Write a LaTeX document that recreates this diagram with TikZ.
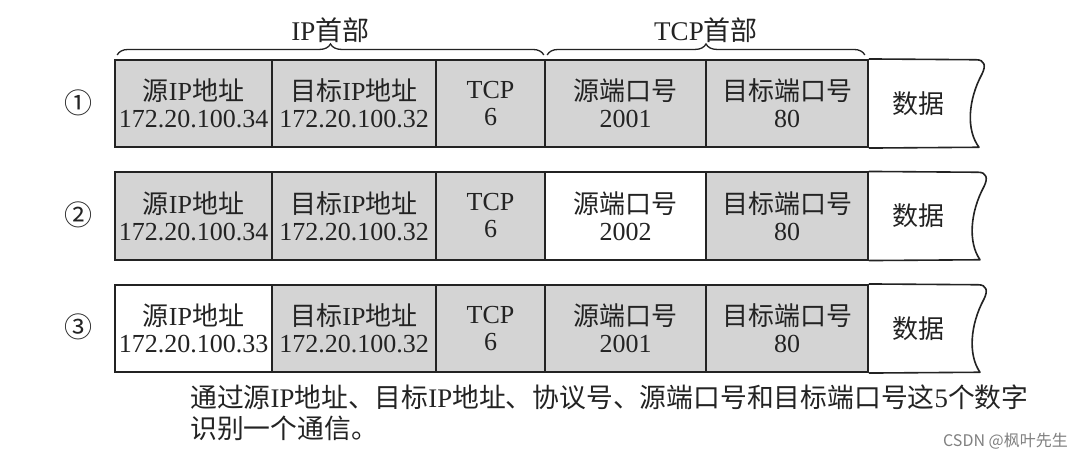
\documentclass[tikz,border=0pt]{standalone}
\usepackage{fontspec}
\setmainfont{Liberation Serif}
\newfontfamily\cjk{Noto Sans CJK SC}
\newcommand{\zh}[1]{{\cjk #1}}
\usetikzlibrary{decorations.pathreplacing}
\definecolor{cellgray}{RGB}{212,212,212}
\definecolor{inkgray}{RGB}{35,35,35}

\begin{document}
\begin{tikzpicture}[x=1pt,y=-1pt]

\tikzset{cell/.style = {draw=inkgray, line width=1.6pt, minimum height=87.5pt, inner sep=0pt, align=center, text=inkgray, font=\fontsize{26}{27}\selectfont}}
\tikzset{hdr/.style = {cell, fill=cellgray}}
\tikzset{rownum/.style = {text=inkgray, font=\cjk\fontsize{28}{28}\selectfont}}
\tikzset{brace/.style = {decorate, decoration={brace, amplitude=11pt}, draw=inkgray, line width=1.3pt}}
\tikzset{datawave/.style = {draw=inkgray, line width=1.6pt, line join=round}}

\fill[white] (0,0) rectangle (1074,458);
\useasboundingbox (0,0) rectangle (1074,458);

%row 1
\node[rownum] (n1) at (78,103) {①};
\node[hdr, minimum width=157pt] (s1) at (193.5,103.5) {\zh{源}IP\zh{地址}\\172.20.100.34};
\node[hdr, minimum width=164pt] (d1) at (354,103.5) {\zh{目标}IP\zh{地址}\\172.20.100.32};
\node[hdr, minimum width=109pt] (p1) at (490.5,103.5) {TCP\\6};
\node[hdr, minimum width=161pt] (sp1) at (625.5,103.5) {\zh{源端口号}\\2001};
\node[hdr, minimum width=162pt] (dp1) at (787,103.5) {\zh{目标端口号}\\80};
\draw[datawave] (dp1.north east) -- (976,59.75) .. controls (985,59.75) and (986,66) .. (982,74)
  .. controls (968,100) and (966,130) .. (979,147.25) -- (dp1.south east);
\node[cell, draw=none] (data1) at (918,103.5) {\zh{数据}};

%row 2
\node[rownum] (n2) at (78,215) {②};
\node[hdr, minimum width=157pt] (s2) at (193.5,216) {\zh{源}IP\zh{地址}\\172.20.100.34};
\node[hdr, minimum width=164pt] (d2) at (354,216) {\zh{目标}IP\zh{地址}\\172.20.100.32};
\node[hdr, minimum width=109pt] (p2) at (490.5,216) {TCP\\6};
\node[cell, minimum width=161pt] (sp2) at (625.5,216) {\zh{源端口号}\\2002};
\node[hdr, minimum width=162pt] (dp2) at (787,216) {\zh{目标端口号}\\80};
\draw[datawave] (dp2.north east) -- (978,172.25) .. controls (987,172.25) and (988,178.5) .. (984,186.5)
  .. controls (970,212.5) and (968,242.5) .. (980,259.75) -- (dp2.south east);
\node[cell, draw=none] (data2) at (918,216) {\zh{数据}};

%row 3
\node[rownum] (n3) at (78,327) {③};
\node[cell, minimum width=157pt] (s3) at (193.5,328.5) {\zh{源}IP\zh{地址}\\172.20.100.33};
\node[hdr, minimum width=164pt] (d3) at (354,328.5) {\zh{目标}IP\zh{地址}\\172.20.100.32};
\node[hdr, minimum width=109pt] (p3) at (490.5,328.5) {TCP\\6};
\node[hdr, minimum width=161pt] (sp3) at (625.5,328.5) {\zh{源端口号}\\2001};
\node[hdr, minimum width=162pt] (dp3) at (787,328.5) {\zh{目标端口号}\\80};
\draw[datawave] (dp3.north east) -- (978,284.75) .. controls (987,284.75) and (988,291) .. (984,299)
  .. controls (970,325) and (968,355) .. (980,372.25) -- (dp3.south east);
\node[cell, draw=none] (data3) at (918,328.5) {\zh{数据}};

%braces
\draw[brace] ([xshift=3pt,yshift=4pt]s1.north west) -- ([xshift=-2pt,yshift=4pt]p1.north east)
  node[midway, above=8pt, text=inkgray, font=\fontsize{27}{27}\selectfont] (iphdr) {IP\zh{首部}};
\draw[brace] ([xshift=3pt,yshift=4pt]sp1.north west) -- ([xshift=-4pt,yshift=4pt]dp1.north east)
  node[midway, above=8pt, text=inkgray, font=\fontsize{27}{27}\selectfont] (tcphdr) {TCP\zh{首部}};

%caption
\node[anchor=north west, align=left, inner sep=0pt, text=inkgray, font=\fontsize{26.8}{31}\selectfont] (note) at (190,385)
  {\zh{通过源}IP\zh{地址、目标}IP\zh{地址、协议号、源端口号和目标端口号这}5\zh{个数字}\\\zh{识别一个通信。}};
\node[anchor=east, inner sep=0pt, text=gray, font=\cjk\fontsize{16}{16}\selectfont] (mark) at (1068,441) {CSDN @枫叶先生};

\end{tikzpicture}
\end{document}
